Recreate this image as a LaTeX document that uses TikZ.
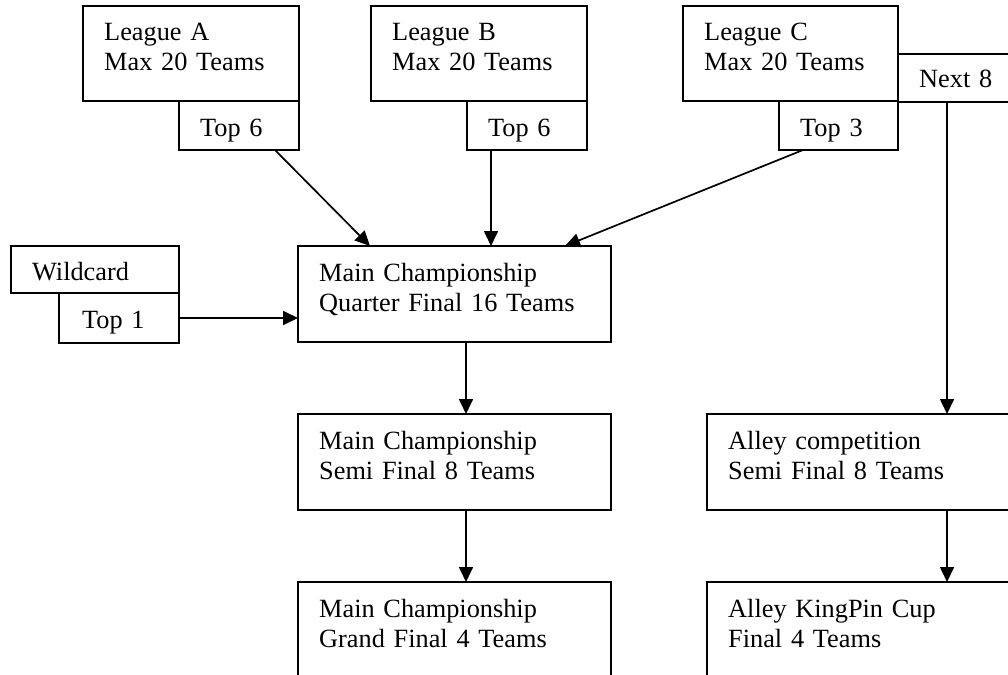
\documentclass[tikz,border=0pt]{standalone}
\usepackage{fontspec}
\setmainfont{Liberation Serif}
\usetikzlibrary{arrows.meta}
\begin{document}
\begin{tikzpicture}[x=1pt,y=-1pt,
  box/.style={draw, line width=2pt, anchor=north west, inner sep=0pt, outer sep=0pt},
  txt/.style={anchor=base west, inner sep=0pt, align=left, text width=320pt,
    font=\fontsize{26.3}{30}\selectfont},
  arr/.style={line width=1.7pt, -{Triangle[length=15pt,width=14pt]}}]
\useasboundingbox (0,0) rectangle (1008,674);
\clip (0,0) rectangle (1008,674);
% boxes
\node[box, minimum width=216pt, minimum height=95pt] (la) at (83,6) {};
\node[box, minimum width=120pt, minimum height=49pt] (ta) at (179,101) {};
\node[box, minimum width=216pt, minimum height=95pt] (lb) at (371,6) {};
\node[box, minimum width=120pt, minimum height=49pt] (tb) at (467,101) {};
\node[box, minimum width=215pt, minimum height=95pt] (lc) at (683,6) {};
\node[box, minimum width=119pt, minimum height=49pt] (tc) at (779,101) {};
\node[box, minimum width=140pt, minimum height=48pt] (n8) at (898,54) {};
\node[box, minimum width=168pt, minimum height=47pt] (wc) at (11,246) {};
\node[box, minimum width=120pt, minimum height=50pt] (t1) at (59,293) {};
\node[box, minimum width=313pt, minimum height=96pt] (qf) at (298,246) {};
\node[box, minimum width=313pt, minimum height=96pt] (ms) at (298,414) {};
\node[box, minimum width=313pt, minimum height=120pt] (mg) at (298,582) {};
\node[box, minimum width=330pt, minimum height=96pt] (as) at (707,414) {};
\node[box, minimum width=330pt, minimum height=120pt] (ak) at (707,582) {};
% texts
\node[txt] (lat) at (104,41) {League A\\Max 20 Teams};
\node[txt] (tat) at (200,136) {Top 6};
\node[txt] (lbt) at (392,41) {League B\\Max 20 Teams};
\node[txt] (tbt) at (488,136) {Top 6};
\node[txt] (lct) at (704,41) {League C\\Max 20 Teams};
\node[txt] (tct) at (800,136) {Top 3};
\node[txt] (n8t) at (919,88) {Next 8};
\node[txt] (wct) at (32,280) {Wildcard};
\node[txt] (t1t) at (82,328) {Top 1};
\node[txt] (qft) at (319,281) {Main Championship\\Quarter Final 16 Teams};
\node[txt] (mst) at (319,449) {Main Championship\\Semi Final 8 Teams};
\node[txt] (mgt) at (319,617) {Main Championship\\Grand Final 4 Teams};
\node[txt] (ast) at (728,449) {Alley competition\\Semi Final 8 Teams};
\node[txt] (akt) at (728,617) {Alley KingPin Cup\\Final 4 Teams};
% helper x positions
\coordinate (xa) at (275,0);
\coordinate (xae) at (370,0);
\coordinate (xb) at (491,0);
\coordinate (xc) at (803,0);
\coordinate (xce) at (565,0);
\coordinate (xm) at (466,0);
\coordinate (xn) at (947,0);
% connectors
\draw[arr] (xa |- ta.south) -- (xae |- qf.north);
\draw[arr] (xb |- tb.south) -- (xb |- qf.north);
\draw[arr] (xc |- tc.south) -- (xce |- qf.north);
\draw[arr] (t1.east) -- (t1.east -| qf.west);
\draw[arr] (xm |- qf.south) -- (xm |- ms.north);
\draw[arr] (xm |- ms.south) -- (xm |- mg.north);
\draw[arr] (xn |- n8.south) -- (xn |- as.north);
\draw[arr] (xn |- as.south) -- (xn |- ak.north);
\end{tikzpicture}
\end{document}
